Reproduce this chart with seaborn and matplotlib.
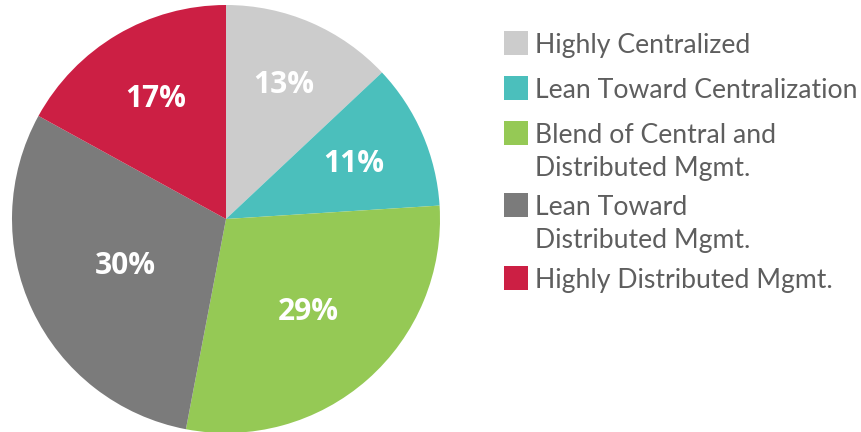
import matplotlib
matplotlib.use("Agg")
import matplotlib.pyplot as plt
import matplotlib.patches as mpatches
import numpy as np
import seaborn as sns

# ---------------------------
# Data
# ---------------------------
categories = [
    "Highly Centralized",
    "Lean Toward Centralization",
    "Blend of Central and\nDistributed Mgmt.",
    "Lean Toward\nDistributed Mgmt.",
    "Highly Distributed Mgmt.",
]
shares = [13, 11, 29, 30, 17]
colors = ["#CCCCCC", "#4BBFBC", "#95C955", "#7B7B7B", "#CC1F44"]

# distance of each percent label from the centre (fraction of radius)
label_dist = [0.68, 0.65, 0.58, 0.52, 0.65]

sns.set_theme(style="white")
palette = sns.color_palette(colors)

fig = plt.figure(figsize=(8.62, 4.32), dpi=100)

# pie axes: radius ~213 px, centre at (226, 219) px
ax = fig.add_axes([12 / 862, -1 / 432, 428 / 862, 428 / 432])
wedges, _ = ax.pie(shares, colors=palette, startangle=90, counterclock=False,
                   radius=1.0, wedgeprops=dict(linewidth=0))
ax.set_xlim(-1, 1)
ax.set_ylim(-1, 1)
ax.set_aspect("equal")
ax.axis("off")

for w, val, d in zip(wedges, shares, label_dist):
    ang = np.deg2rad((w.theta1 + w.theta2) / 2)
    ax.text(d * np.cos(ang), d * np.sin(ang), f"{val}%", color="white",
            ha="center", va="center", fontsize=21.5, fontweight="bold",
            family="Open Sans")

# ---------------------------
# Legend (drawn by hand so the square aligns with the first text line)
# ---------------------------
row_y = [43, 88, 133, 205, 278]   # px from top, first line of each entry
line_h = 33
for lab, col, y in zip(categories, palette, row_y):
    fig.patches.append(mpatches.Rectangle(
        (504 / 862, 1 - (y + 12) / 432), 24 / 862, 24 / 432,
        transform=fig.transFigure, color=col, linewidth=0))
    for i, line in enumerate(lab.split("\n")):
        fig.text(535 / 862, 1 - (y + i * line_h) / 432, line,
                 ha="left", va="center_baseline", fontsize=19.2,
                 color="#5E5E5E", family="Lato", fontweight="normal")

fig.savefig("out.png", dpi=100)
plt.close(fig)
